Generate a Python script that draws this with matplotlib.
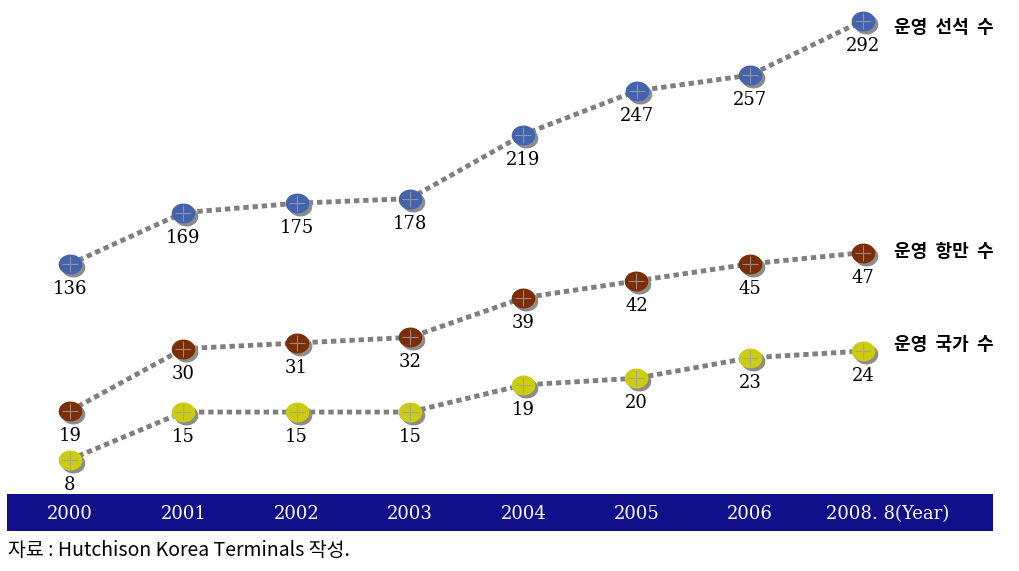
import matplotlib
matplotlib.use( 'Agg' )
import matplotlib.pyplot as plt
from matplotlib import transforms
from matplotlib.patches import Rectangle
import numpy as np

plt.rcParams[ 'font.family' ] = [ 'Noto Sans CJK KR', 'DejaVu Sans' ]

years = [ '2000', '2001', '2002', '2003', '2004', '2005', '2006', '2008. 8(Year)' ]
berths = [ 136, 169, 175, 178, 219, 247, 257, 292 ]
ports = [ 19, 30, 31, 32, 39, 42, 45, 47 ]
countries = [ 8, 15, 15, 15, 19, 20, 23, 24 ]
series_names = [ '운영  선석  수', '운영  항만  수', '운영  국가  수' ]
source_text = '자료 : Hutchison Korea Terminals 작성.'

W, H = 1019, 571
fig = plt.figure( figsize = ( W / 100, H / 100 ), dpi = 100 )

# each series gets its own y scale (schematic chart)
ax_bottom = ( H - 490 ) / H
ax = fig.add_axes( [ 0, ax_bottom, 1, 1 - ax_bottom ] )
ax2 = ax.twinx()
ax3 = ax.twinx()

x = np.arange( len( years ) )
step = 113.3  # px between categories
xlim = ( -70 / step, ( W - 70 ) / step )

# ellipse marker
t = np.linspace( 0, 2 * np.pi, 60 )
ell = np.column_stack( [ 1.2 * np.cos( t ), np.sin( t ) ] )

configs = [
    ( ax,  berths,    ( -8.7, 305.2 ), '#4463ad', series_names[ 0 ], -5 ),
    ( ax2, ports,     ( 5.0, 91.7 ),   '#7b2e06', series_names[ 1 ], 1 ),
    ( ax3, countries, ( 3.5, 75.8 ),   '#cccc10', series_names[ 2 ], 5 ),
]

for a, vals, ylim, color, name, dy in configs:
    a.set_xlim( *xlim )
    a.set_ylim( *ylim )
    a.axis( 'off' )
    a.plot( x, vals, color = '#7f7f7f', lw = 3.5,
            linestyle = ( 0, ( 1.1, 0.8 ) ), dash_capstyle = 'butt', zorder = 2 )
    shadow = transforms.offset_copy( a.transData, fig = fig, x = 3, y = -3, units = 'dots' )
    a.plot( x, vals, linestyle = 'none', marker = ell, markersize = 16,
            color = '#8c8c8c', transform = shadow, zorder = 3 )
    a.plot( x, vals, linestyle = 'none', marker = ell, markersize = 16,
            color = color, zorder = 4 )
    a.plot( x, vals, linestyle = 'none', marker = '+', markersize = 11,
            markeredgewidth = 0.8, color = '#a0a0a0', alpha = 0.8, zorder = 5 )
    for xi, v in zip( x, vals ):
        a.annotate( str( v ), ( xi, v ), xytext = ( 0, -18 ), textcoords = 'offset points',
                    ha = 'center', va = 'center', fontsize = 13,
                    family = 'DejaVu Serif', color = 'black', zorder = 6 )
    a.annotate( name, ( x[ -1 ], vals[ -1 ] ), xytext = ( 22, dy ), textcoords = 'offset points',
                ha = 'left', va = 'center', fontsize = 13, fontweight = 'bold',
                color = 'black', zorder = 6 )

# year band
fig.patches.append( Rectangle( ( 7 / W, ( H - 531 ) / H ), ( 993 - 7 ) / W, 37 / H,
                               transform = fig.transFigure, facecolor = '#10108a',
                               edgecolor = 'none' ) )
for xi, yr in zip( x, years ):
    xc = 70 + xi * step + ( 25 if xi == len( years ) - 1 else 0 )
    fig.text( xc / W, ( H - 514 ) / H, yr,
              ha = 'center', va = 'center', fontsize = 13, family = 'DejaVu Serif', color = 'white' )

fig.text( 8 / W, ( H - 550 ) / H, source_text, ha = 'left', va = 'center',
          fontsize = 14, color = 'black' )

fig.savefig( 'out.png', dpi = 100 )
